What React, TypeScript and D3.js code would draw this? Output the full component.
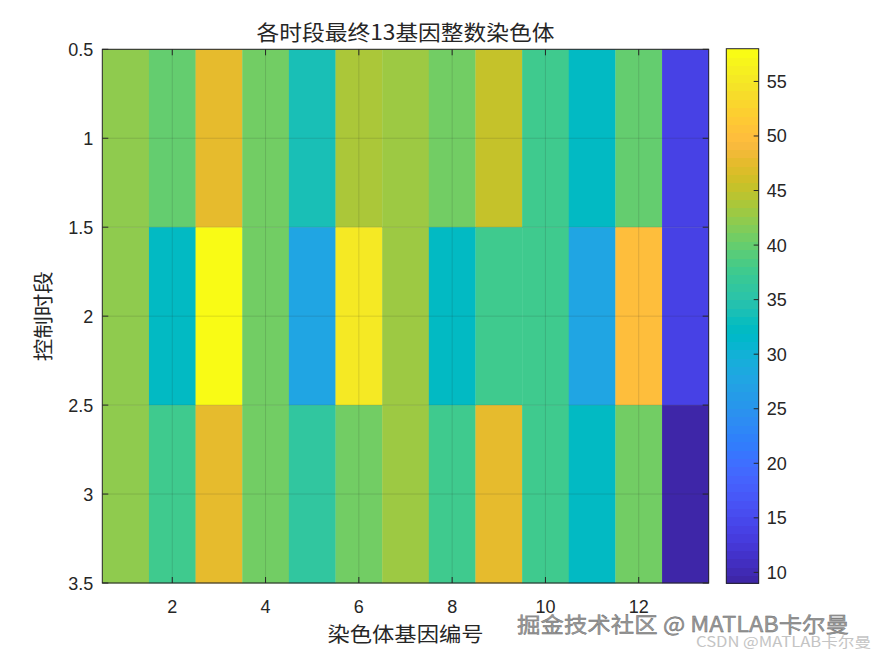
import React from "react";
import * as d3 from "d3";

// ---- data ----
const genes = [1, 2, 3, 4, 5, 6, 7, 8, 9, 10, 11, 12, 13];
const periods = [1, 2, 3];
const row1 = [42, 40, 48, 41, 34, 44, 43, 41, 45, 38, 32, 40, 14];
const row2 = [42, 32, 58, 41, 28, 55, 43, 32, 38, 38, 28, 50, 14];
const row3 = [42, 38, 48, 41, 36, 41, 43, 38, 48, 38, 32, 41, 9];
const rows = [row1, row2, row3];
const xTicks = [2, 4, 6, 8, 10, 12];
const yTicks = [0.5, 1, 1.5, 2, 2.5, 3, 3.5];
const cbTicks = [10, 15, 20, 25, 30, 35, 40, 45, 50, 55];
const cLim = [9, 58];

const titleText = "各时段最终13基因整数染色体";
const xLabelText = "染色体基因编号";
const yLabelText = "控制时段";

// MATLAB parula (64)
const parula: number[][] = [
  [0.2422, 0.1504, 0.6603], [0.2504, 0.165, 0.7076], [0.2578, 0.1818, 0.7511], [0.2647, 0.1978, 0.7952],
  [0.2706, 0.2147, 0.8364], [0.2751, 0.2342, 0.871], [0.2783, 0.2559, 0.8991], [0.2803, 0.2782, 0.9221],
  [0.2813, 0.3006, 0.9414], [0.281, 0.3228, 0.9579], [0.2795, 0.3447, 0.9717], [0.276, 0.3667, 0.9829],
  [0.2699, 0.3892, 0.9906], [0.2602, 0.4123, 0.9952], [0.244, 0.4358, 0.9988], [0.2206, 0.4603, 0.9973],
  [0.1963, 0.4847, 0.9892], [0.1834, 0.5074, 0.9798], [0.1786, 0.5289, 0.9682], [0.1764, 0.5499, 0.952],
  [0.1687, 0.5703, 0.9359], [0.154, 0.5902, 0.9218], [0.146, 0.6091, 0.9079], [0.138, 0.6276, 0.8973],
  [0.1248, 0.6459, 0.8883], [0.1113, 0.6635, 0.8763], [0.0952, 0.6798, 0.8598], [0.0689, 0.6948, 0.8394],
  [0.0297, 0.7082, 0.8163], [0.0036, 0.7203, 0.7917], [0.0067, 0.7312, 0.766], [0.0433, 0.7411, 0.7394],
  [0.0964, 0.75, 0.712], [0.1408, 0.7584, 0.6842], [0.1717, 0.767, 0.6554], [0.1938, 0.7758, 0.6251],
  [0.2161, 0.7843, 0.5923], [0.247, 0.7918, 0.5567], [0.2906, 0.7973, 0.5188], [0.3406, 0.8008, 0.4789],
  [0.3909, 0.8029, 0.4354], [0.4456, 0.8024, 0.3909], [0.5044, 0.7993, 0.348], [0.5616, 0.7942, 0.3045],
  [0.6174, 0.7876, 0.2612], [0.672, 0.7793, 0.2227], [0.7242, 0.7698, 0.191], [0.7738, 0.7598, 0.1646],
  [0.8203, 0.7498, 0.1535], [0.8634, 0.7406, 0.1596], [0.9035, 0.733, 0.1774], [0.9393, 0.7288, 0.21],
  [0.9728, 0.7298, 0.2394], [0.9956, 0.7434, 0.2371], [0.997, 0.7659, 0.2199], [0.9952, 0.7893, 0.2028],
  [0.9892, 0.8136, 0.1885], [0.9786, 0.8386, 0.1766], [0.9676, 0.8639, 0.1643], [0.961, 0.889, 0.1537],
  [0.9597, 0.9135, 0.1423], [0.9628, 0.9373, 0.1265], [0.9691, 0.9606, 0.1064], [0.9769, 0.9839, 0.0805],
];
const parulaHex = parula.map((c) => d3.rgb(c[0] * 255, c[1] * 255, c[2] * 255).formatHex());

const W = 875;
const H = 656;
const plot = { left: 102.3, right: 708.7, top: 49.3, bottom: 583 };
const cb = { left: 726.3, right: 758.7, top: 48.7, bottom: 583.3 };
const axisColor = "#262626";
const font = "'Liberation Sans', Arial, 'Noto Sans CJK SC', sans-serif";
const cjkFont = "'Noto Sans CJK SC', 'Liberation Sans', sans-serif";

export default function App() {
  const x = d3.scaleLinear().domain([0.5, 13.5]).range([plot.left, plot.right]);
  const y = d3.scaleLinear().domain([0.5, 3.5]).range([plot.top, plot.bottom]);
  const color = d3.scaleQuantize<string>().domain(cLim).range(parulaHex);
  const cy = d3.scaleLinear().domain(cLim).range([cb.bottom, cb.top]);
  const bandStep = (cLim[1] - cLim[0]) / parulaHex.length;
  const bands = parulaHex.map((c, i) => ({ c, v0: cLim[0] + i * bandStep, v1: cLim[0] + (i + 1) * bandStep }));
  const tickLen = 6;

  return (
    <svg width={W} height={H} style={{ position: "absolute", left: 0, top: 0, background: "#fff" }}>
      {/* cells */}
      {rows.map((row, ri) =>
        row.map((v, ci) => (
          <rect
            key={`c${ri}-${ci}`}
            x={x(genes[ci] - 0.5)}
            y={y(periods[ri] - 0.5)}
            width={x(genes[ci] + 0.5) - x(genes[ci] - 0.5) + 0.3}
            height={y(periods[ri] + 0.5) - y(periods[ri] - 0.5) + 0.3}
            fill={color(v)}
          />
        ))
      )}
      {/* grid */}
      {xTicks.map((t) => (
        <line key={`gx${t}`} x1={x(t)} x2={x(t)} y1={plot.top} y2={plot.bottom} stroke="#262626" strokeOpacity={0.15} strokeWidth={1} />
      ))}
      {yTicks.map((t) => (
        <line key={`gy${t}`} x1={plot.left} x2={plot.right} y1={y(t)} y2={y(t)} stroke="#262626" strokeOpacity={0.15} strokeWidth={1} />
      ))}
      {/* box */}
      <rect x={plot.left} y={plot.top} width={plot.right - plot.left} height={plot.bottom - plot.top} fill="none" stroke={axisColor} strokeWidth={1} />
      {/* x ticks */}
      {xTicks.map((t) => (
        <g key={`xt${t}`}>
          <line x1={x(t)} x2={x(t)} y1={plot.bottom} y2={plot.bottom - tickLen} stroke={axisColor} />
          <line x1={x(t)} x2={x(t)} y1={plot.top} y2={plot.top + tickLen} stroke={axisColor} />
          <text x={x(t)} y={plot.bottom + 29.5} textAnchor="middle" fontFamily={font} fontSize={18} fill={axisColor}>
            {t}
          </text>
        </g>
      ))}
      {/* y ticks */}
      {yTicks.map((t) => (
        <g key={`yt${t}`}>
          <line x1={plot.left} x2={plot.left + tickLen} y1={y(t)} y2={y(t)} stroke={axisColor} />
          <line x1={plot.right} x2={plot.right - tickLen} y1={y(t)} y2={y(t)} stroke={axisColor} />
          <text x={plot.left - 9} y={y(t) + 6.5} textAnchor="end" fontFamily={font} fontSize={18} fill={axisColor}>
            {t}
          </text>
        </g>
      ))}
      {/* colorbar */}
      <g shapeRendering="crispEdges">
        {bands.map((b, i) => (
          <rect key={`cb${i}`} x={cb.left} y={cy(b.v1)} width={cb.right - cb.left} height={cy(b.v0) - cy(b.v1) + 1} fill={b.c} />
        ))}
      </g>
      <rect x={cb.left} y={cb.top} width={cb.right - cb.left} height={cb.bottom - cb.top} fill="none" stroke={axisColor} strokeWidth={1} />
      {cbTicks.map((t) => (
        <g key={`cbt${t}`}>
          <line x1={cb.right} x2={cb.right - 5} y1={cy(t)} y2={cy(t)} stroke={axisColor} />
          <text x={cb.right + 8} y={cy(t) + 6.5} textAnchor="start" fontFamily={font} fontSize={18} fill={axisColor}>
            {t}
          </text>
        </g>
      ))}
      {/* title & labels */}
      <text x={(plot.left + plot.right) / 2} y={39.5} textAnchor="middle" fontFamily={cjkFont} fontSize={21} fill={axisColor} textLength={298} lengthAdjust="spacingAndGlyphs">
        {titleText}
      </text>
      <text x={(plot.left + plot.right) / 2} y={642} textAnchor="middle" fontFamily={cjkFont} fontSize={20} fill={axisColor} textLength={156} lengthAdjust="spacingAndGlyphs">
        {xLabelText}
      </text>
      <text
        transform={`translate(51, ${(plot.top + plot.bottom) / 2}) rotate(-90)`}
        textAnchor="middle"
        fontFamily={cjkFont}
        fontSize={20}
        fill={axisColor}
        textLength={90}
        lengthAdjust="spacingAndGlyphs"
      >
        {yLabelText}
      </text>
      {/* watermarks */}
      <text x={517} y={632} fontFamily={cjkFont} fontSize={21} fill="#9a9a9a" stroke="#6a6a6a" strokeWidth={0.4} textLength={332} lengthAdjust="spacingAndGlyphs">
        掘金技术社区 @ MATLAB卡尔曼
      </text>
      <text x={696} y={647} fontFamily={cjkFont} fontSize={14} fill="#c4c4c4" textLength={175} lengthAdjust="spacingAndGlyphs">
        CSDN @MATLAB卡尔曼
      </text>
    </svg>
  );
}
